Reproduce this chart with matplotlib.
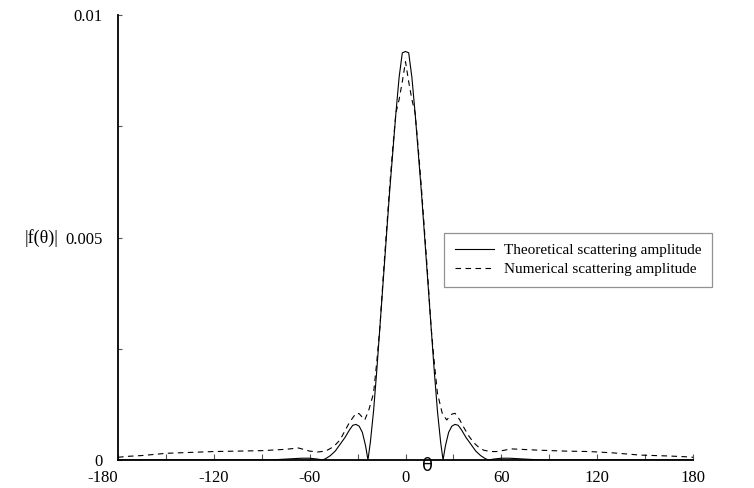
import numpy as np
import matplotlib
matplotlib.use("Agg")
import matplotlib.pyplot as plt

# === DATA ===
theta_theory = [-180, -150, -120, -100, -90, -85, -80, -75, -70, -65, -60, -55, -52, -50, -47, -44, -41, -38,
                -35, -33, -31, -29, -27, -25, -23.5, -22, -20, -18, -16, -14, -12, -10, -8, -6, -4, -2,
                0, 2, 4, 6, 8, 10, 12, 14, 16, 18, 20, 22, 23.5, 25, 27, 29, 31, 33, 35, 38, 41, 44, 47,
                50, 52, 55, 60, 65, 70, 75, 80, 85, 90, 100, 120, 150, 180]
amp_theory = [0.0, 0.0, 0.0, 0.0, 0.0, 0.0, 0.00001, 0.00002, 0.00003, 0.00004, 0.00004, 0.00002, 0.0, 0.00003,
              0.0001, 0.0002, 0.00035, 0.0005, 0.00068, 0.00078, 0.0008, 0.00076, 0.00062, 0.00032, 0.0,
              0.0004, 0.0011, 0.002, 0.003, 0.004, 0.005, 0.006, 0.0069, 0.0078, 0.0086, 0.00915,
              0.00918, 0.00915, 0.0086, 0.0078, 0.0069, 0.006, 0.005, 0.004, 0.003, 0.002, 0.0011, 0.0004,
              0.0, 0.00032, 0.00062, 0.00076, 0.0008, 0.00078, 0.00068, 0.0005, 0.00035, 0.0002, 0.0001,
              0.00003, 0.0, 0.00002, 0.00004, 0.00004, 0.00003, 0.00002, 0.00001, 0.0, 0.0, 0.0, 0.0, 0.0, 0.0]

theta_num = [-180, -175, -165, -150, -135, -120, -105, -90, -75, -67, -60, -55, -50, -45, -41, -35, -31, -29,
             -25.5, -23, -20, -18, -16, -14, -12, -10, -8, -6, -4, -2, 0, 2, 4, 6, 8, 10, 12, 14, 16, 18,
             20, 23, 25.8, 29, 31, 34, 37, 40, 43, 46, 49, 53, 57, 62, 66, 72, 84, 100, 115, 130, 147,
             165, 177, 180]
amp_num = [0.00006, 0.00008, 0.0001, 0.00015, 0.00017, 0.00019, 0.0002, 0.00021, 0.00024, 0.00027, 0.0002,
           0.00018, 0.0002, 0.0003, 0.00045, 0.00085, 0.00105, 0.00104, 0.0009, 0.00112, 0.0015, 0.0022,
           0.003, 0.0041, 0.0051, 0.0061, 0.007, 0.0078, 0.0081, 0.0085, 0.00895, 0.0085, 0.0081, 0.0078,
           0.007, 0.0061, 0.0051, 0.0041, 0.003, 0.0022, 0.0015, 0.00105, 0.0009, 0.00103, 0.00105, 0.0009,
           0.0007, 0.00052, 0.00038, 0.00028, 0.00022, 0.00019, 0.00019, 0.00022, 0.00025, 0.00024, 0.00022,
           0.0002, 0.00019, 0.00016, 0.00011, 0.00009, 0.00007, 0.00006]

x_ticks = list(range(-180, 181, 30))
x_labels = ["-180", "", "-120", "", "-60", "", "0", "", "60", "", "120", "", "180"]
y_ticks = [0, 0.0025, 0.005, 0.0075, 0.01]
y_labels = ["0", "", "0.005", "", "0.01"]

# === STYLE ===
plt.rcParams["font.family"] = ["Liberation Serif", "DejaVu Serif"]

fig = plt.figure(figsize=(7.54, 4.88), dpi=100)
ax = fig.add_axes([118 / 754, 1 - 460 / 488, 575 / 754, 445 / 488])

ax.plot(theta_theory, amp_theory, color="black", lw=0.8, label="Theoretical scattering amplitude")
ax.plot(theta_num, amp_num, color="black", lw=0.8, ls=(0, (5, 4)), label="Numerical scattering amplitude")

ax.set_xlim(-180, 180)
ax.set_ylim(0, 0.01)
ax.set_xticks(x_ticks)
ax.set_xticklabels(x_labels, fontsize=12)
ax.set_yticks(y_ticks)
ax.set_yticklabels(y_labels, fontsize=12)
ax.get_xticklabels()[0].set_ha("right")
ax.tick_params(axis="x", direction="in", length=4, width=0.8, color="#555555", pad=7)
ax.tick_params(axis="y", direction="in", length=3, width=0.8, color="#555555", pad=11)

for side in ["top", "right"]:
    ax.spines[side].set_visible(False)
for side in ["left", "bottom"]:
    ax.spines[side].set_linewidth(1.3)

ax.text(0.539, -0.014, "θ", transform=ax.transAxes, fontsize=13, ha="center", va="center",
        family=["DejaVu Sans"])
fig.text(42 / 754, 1 - 238 / 488, "|f(θ)|", fontsize=13, ha="center", va="center")

leg = ax.legend(loc="upper left", bbox_to_anchor=((444 - 118) / 575, (460 - 233) / 445),
                borderaxespad=0, fontsize=11, frameon=True, fancybox=False, edgecolor="#777777",
                handlelength=2.6, borderpad=0.7, labelspacing=0.35, handletextpad=0.6)
leg.get_frame().set_linewidth(0.9)

# === SAVE OUTPUT ===
plt.savefig("out.png", dpi=100)
